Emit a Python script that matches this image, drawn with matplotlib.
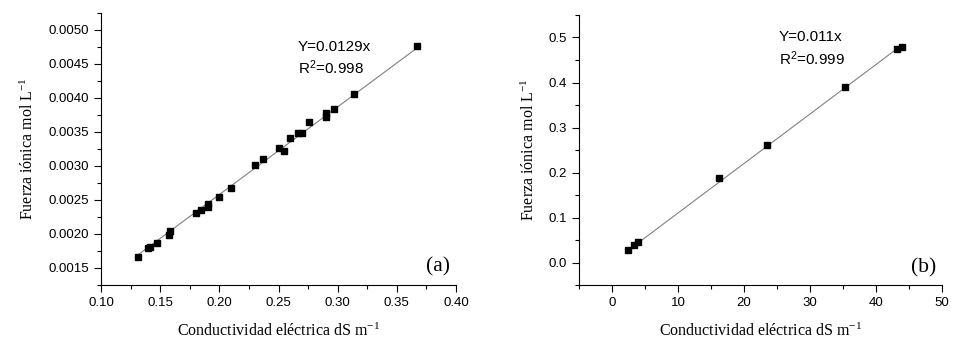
import numpy as np
import matplotlib
matplotlib.use('Agg')
import matplotlib.pyplot as plt
from matplotlib.ticker import MultipleLocator, FormatStrFormatter

# panel (a) data
ce_a = [0.1315, 0.1394, 0.1414, 0.1473, 0.1575, 0.1583, 0.1803, 0.1842, 0.1901, 0.1901,
        0.2000, 0.2099, 0.2301, 0.2372, 0.2501, 0.2544, 0.2600, 0.2662, 0.2701, 0.2760,
        0.2901, 0.2901, 0.2969, 0.3141, 0.3668]
fi_a = [0.00166, 0.00180, 0.00181, 0.00187, 0.00198, 0.00204, 0.00231, 0.00235, 0.00239, 0.00244,
        0.00254, 0.00267, 0.00301, 0.00311, 0.00327, 0.00322, 0.00341, 0.00348, 0.00349, 0.00364,
        0.00372, 0.00378, 0.00384, 0.00406, 0.00477]
slope_a = 0.0129

# panel (b) data
ce_b = [2.43, 3.34, 3.95, 16.25, 23.54, 35.34, 43.14, 43.90]
fi_b = [0.0282, 0.0386, 0.0453, 0.188, 0.261, 0.389, 0.475, 0.478]
slope_b = 0.011

W, H = 971, 350
fig = plt.figure(figsize=(W / 100, H / 100), dpi=100)

sans = 'Liberation Sans'
serif = 'Liberation Serif'


def style(ax):
    ax.spines['top'].set_visible(False)
    ax.spines['right'].set_visible(False)
    ax.tick_params(which='major', direction='out', length=5, width=0.8)
    ax.tick_params(which='minor', direction='out', length=3, width=0.8)
    for lab in ax.get_xticklabels() + ax.get_yticklabels():
        lab.set_fontfamily(sans)
        lab.set_fontsize(9.5)


def panel(rect, x, y, slope, xlim, ylim, xmaj, ymaj, xfmt, yfmt, eq, r2, txt_pos, tag):
    ax = fig.add_axes(rect)
    xs = np.array([min(x), max(x)])
    ax.plot(xs, slope * xs, color='#808080', lw=0.8, zorder=1)
    ax.plot(x, y, 's', color='black', ms=4.5, zorder=2)
    ax.set_xlim(*xlim)
    ax.set_ylim(*ylim)
    ax.xaxis.set_major_locator(MultipleLocator(xmaj))
    ax.xaxis.set_minor_locator(MultipleLocator(xmaj / 2))
    ax.yaxis.set_major_locator(MultipleLocator(ymaj))
    ax.yaxis.set_minor_locator(MultipleLocator(ymaj / 2))
    ax.xaxis.set_major_formatter(FormatStrFormatter(xfmt))
    ax.yaxis.set_major_formatter(FormatStrFormatter(yfmt))
    ax.set_xlabel(r'Conductividad eléctrica dS m$\mathregular{^{-1}}$', family=serif,
                  fontsize=11.5, labelpad=10)
    ax.set_ylabel(r'Fuerza iónica mol L$\mathregular{^{-1}}$', family=serif,
                  fontsize=11.5, labelpad=8)
    ax.text(txt_pos[0], txt_pos[1], eq, transform=ax.transAxes, family=sans,
            fontsize=11, va='center', ha='left')
    ax.text(txt_pos[0], txt_pos[2], r2, transform=ax.transAxes, family=sans,
            fontsize=11, va='center', ha='left')
    ax.text(0.95, 0.065, tag, transform=ax.transAxes, family=serif, fontsize=15.5,
            ha='center', va='center')
    style(ax)
    return ax


panel([101 / W, 65 / H, 355 / W, 272 / H], ce_a, fi_a, slope_a,
      (0.10, 0.40), (0.00125, 0.00525), 0.05, 0.0005, '%.2f', '%.4f',
      'Y=0.0129x', r'R$\mathregular{^2}$=0.998', (0.555, 0.875, 0.80), '(a)')

panel([579 / W, 65 / H, 363 / W, 270 / H], ce_b, fi_b, slope_b,
      (-5, 50), (-0.05, 0.55), 10, 0.1, '%d', '%.1f',
      'Y=0.011x', r'R$\mathregular{^2}$=0.999', (0.551, 0.918, 0.84), '(b)')

fig.savefig('out.png', dpi=100)
